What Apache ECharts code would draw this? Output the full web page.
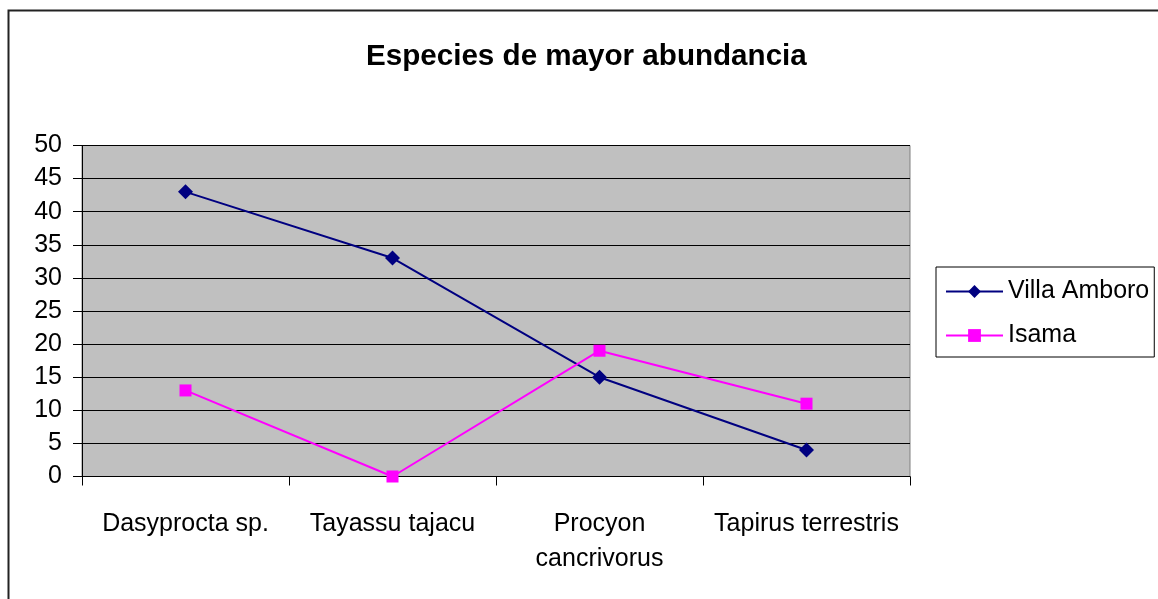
<!DOCTYPE html>
<html>
<head>
<meta charset="utf-8">
<script src="https://cdn.jsdelivr.net/npm/echarts@6/dist/echarts.min.js"></script>
<style>
  html, body { margin: 0; padding: 0; background: #fff; }
  #chart { width: 1158px; height: 599px; }
</style>
</head>
<body>
<div id="chart"></div>
<script>
var categories = ['Dasyprocta sp.', 'Tayassu tajacu', 'Procyon\ncancrivorus', 'Tapirus terrestris'];
var villaAmboro = [43, 33, 15, 4];
var isama = [13, 0, 19, 11];
var seriesNames = ['Villa Amboro', 'Isama'];

var fontFam = '"Liberation Sans", Arial, sans-serif';

var myChart = echarts.init(document.getElementById('chart'));

var option = {
    animation: false,
    backgroundColor: '#fff',
    title: {
        text: 'Especies de mayor abundancia',
        left: 361,
        top: 37,
        textStyle: { fontFamily: fontFam, fontSize: 29.6, fontWeight: 'bold', color: '#000' }
    },
    graphic: [{
        type: 'rect',
        shape: { x: 8.5, y: 10.5, width: 2000, height: 2000 },
        style: { fill: 'none', stroke: '#222', lineWidth: 2 },
        silent: true
    }],
    grid: {
        left: 82, top: 145.5, width: 828, height: 331,
        show: true, backgroundColor: '#c0c0c0', borderColor: '#808080', borderWidth: 1
    },
    legend: {
        data: seriesNames,
        orient: 'vertical',
        left: 936, top: 267,
        borderColor: '#000', borderWidth: 1, borderRadius: 0,
        padding: [12, 5, 9, 9],
        itemWidth: 57, itemHeight: 16, itemGap: 19,
        textStyle: { fontFamily: fontFam, fontSize: 25, color: '#000' }
    },
    xAxis: {
        type: 'category',
        data: categories,
        boundaryGap: true,
        axisLine: { lineStyle: { color: '#000', width: 1 } },
        axisTick: { show: true, interval: 0, length: 9, lineStyle: { color: '#000' } },
        axisLabel: { interval: 0, margin: 30, fontFamily: fontFam, fontSize: 25, color: '#000', lineHeight: 35 }
    },
    yAxis: {
        type: 'value',
        min: 0, max: 50, interval: 5,
        axisLine: { show: true, lineStyle: { color: '#000', width: 1 } },
        axisTick: { show: true, length: 9, lineStyle: { color: '#000' } },
        axisLabel: { margin: 20, fontFamily: fontFam, fontSize: 25, color: '#000' },
        splitLine: { show: true, lineStyle: { color: '#000', width: 1 } }
    },
    series: [{
        name: seriesNames[0],
        type: 'line',
        data: villaAmboro,
        symbol: 'diamond',
        symbolSize: 15,
        lineStyle: { color: '#000080', width: 2 },
        itemStyle: { color: '#000080' }
    }, {
        name: seriesNames[1],
        type: 'line',
        data: isama,
        symbol: 'rect',
        symbolSize: 12,
        lineStyle: { color: '#ff00ff', width: 2 },
        itemStyle: { color: '#ff00ff' }
    }]
};

myChart.setOption(option);
</script>
</body>
</html>
